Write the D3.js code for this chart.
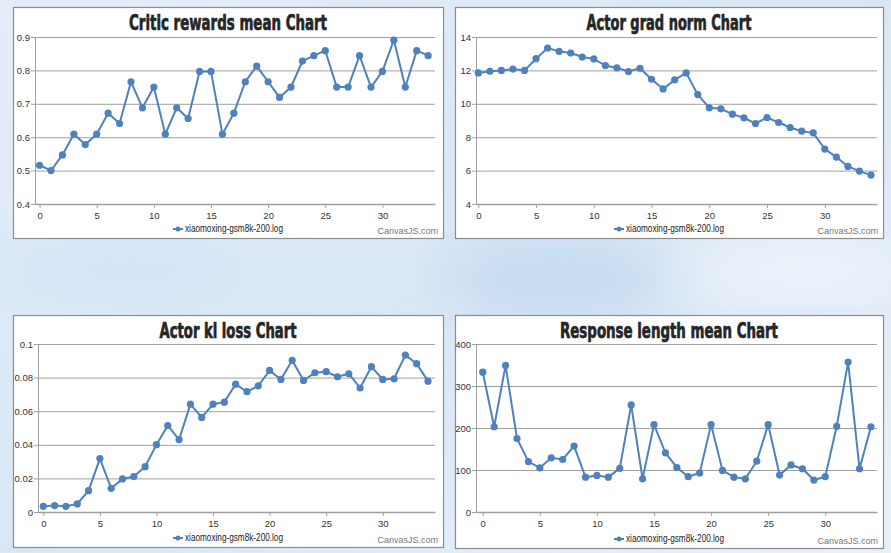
<!DOCTYPE html>
<html>
<head>
<meta charset="utf-8">
<script src="https://cdn.jsdelivr.net/npm/d3@7/dist/d3.min.js"></script>
<style>
body { margin: 0; overflow: hidden; }
</style>
</head>
<body>
<script>
// taille de la page
var larg = 891;
var haut = 553;

// donnees (pas 0 -> 34)
var steps = d3.range(0, 35);
var criticRewards = [0.516, 0.5, 0.547, 0.609, 0.578, 0.609, 0.672, 0.641, 0.766, 0.688,
	0.75, 0.609, 0.688, 0.656, 0.797, 0.797, 0.609, 0.672, 0.766, 0.813,
	0.766, 0.719, 0.75, 0.828, 0.844, 0.859, 0.75, 0.75, 0.844, 0.75,
	0.797, 0.891, 0.75, 0.859, 0.844];
var gradNorm = [11.85, 11.95, 12.0, 12.08, 12.0, 12.7, 13.34, 13.14, 13.04, 12.8,
	12.69, 12.29, 12.15, 11.93, 12.13, 11.47, 10.89, 11.43, 11.85, 10.55,
	9.76, 9.7, 9.38, 9.16, 8.82, 9.18, 8.88, 8.58, 8.36, 8.26,
	7.29, 6.81, 6.25, 5.97, 5.73];
var klLoss = [0.0034, 0.0038, 0.0034, 0.0048, 0.0127, 0.0318, 0.0141, 0.0197, 0.0211, 0.027,
	0.0401, 0.0515, 0.0431, 0.0642, 0.0563, 0.0642, 0.0654, 0.0761, 0.0716, 0.0751,
	0.0843, 0.0789, 0.0903, 0.0783, 0.0829, 0.0835, 0.0805, 0.0823, 0.0738, 0.0865,
	0.0789, 0.0793, 0.0934, 0.0883, 0.0779];
var respLength = [333, 203, 349, 175, 120, 105, 129, 125, 157, 83,
	87, 83, 104, 255, 79, 208, 141, 106, 84, 93,
	208, 99, 83, 79, 121, 208, 88, 112, 103, 76,
	84, 204, 357, 103, 203];

var titles = ["Critic rewards mean Chart", "Actor grad norm Chart", "Actor kl loss Chart", "Response length mean Chart"];
var legendName = "xiaomoxing-gsm8k-200.log";
var xTicks = [0, 5, 10, 15, 20, 25, 30];
var yTicksCritic = [0.4, 0.5, 0.6, 0.7, 0.8, 0.9];
var yTicksGrad = [4, 6, 8, 10, 12, 14];
var yTicksKl = [0, 0.02, 0.04, 0.06, 0.08, 0.1];
var yTicksResp = [0, 100, 200, 300, 400];

// cadres des 4 graphes
var panels = [
	{ data: criticRewards, ticks: yTicksCritic, x: 13, y: 7, w: 430, h: 231, left: 22, top: 30, right: 8, bottom: 34, tw: 198, xpad: [0.4, 0.6] },
	{ data: gradNorm, ticks: yTicksGrad, x: 455, y: 7, w: 428, h: 231, left: 21, top: 30, right: 6, bottom: 34, tw: 165, xpad: [0.2, 0.52] },
	{ data: klLoss, ticks: yTicksKl, x: 13, y: 315, w: 430, h: 232, left: 25, top: 29, right: 8, bottom: 35, tw: 137, xpad: [0.47, 0.62] },
	{ data: respLength, ticks: yTicksResp, x: 455, y: 315, w: 428, h: 233, left: 21, top: 29, right: 6, bottom: 36, tw: 218, xpad: [0.59, 0.53] }
];

var couleur = "#4F81BC";

var svg = d3.select("body")
	.append("svg")
	.attr("width", larg)
	.attr("height", haut);

// fond bleu flou
var defs = svg.append("defs");
var lg = defs.append("linearGradient").attr("id", "fond").attr("x1", 0).attr("y1", 0).attr("x2", 1).attr("y2", 1);
lg.append("stop").attr("offset", "0%").attr("stop-color", "#e4eef8");
lg.append("stop").attr("offset", "50%").attr("stop-color", "#d9e7f5");
lg.append("stop").attr("offset", "100%").attr("stop-color", "#e8f1fa");
defs.append("filter").attr("id", "flou").append("feGaussianBlur").attr("stdDeviation", 30);

svg.append("rect").attr("width", larg).attr("height", haut).attr("fill", "url(#fond)");
svg.append("ellipse").attr("cx", 560).attr("cy", 280).attr("rx", 120).attr("ry", 40)
	.attr("fill", "#c4daf0").attr("filter", "url(#flou)");
svg.append("ellipse").attr("cx", 120).attr("cy", 270).attr("rx", 140).attr("ry", 35)
	.attr("fill", "#d2e4f5").attr("filter", "url(#flou)");
svg.append("ellipse").attr("cx", 800).attr("cy", 270).attr("rx", 120).attr("ry", 30)
	.attr("fill", "#eef4fb").attr("filter", "url(#flou)");

panels.forEach(function(p, i) {
	var g = svg.append("g").attr("transform", "translate(" + p.x + "," + p.y + ")");

	g.append("rect")
		.attr("x", 0.5).attr("y", 0.5)
		.attr("width", p.w).attr("height", p.h)
		.attr("fill", "#ffffff")
		.attr("stroke", "#8c8c8c")
		.attr("stroke-width", 1.2);

	var xScale = d3.scaleLinear()
		.domain([-p.xpad[0], 34 + p.xpad[1]])
		.range([p.left, p.w - p.right]);

	var yScale = d3.scaleLinear()
		.domain(d3.extent(p.ticks))
		.range([p.h - p.bottom, p.top]);

	// grille horizontale
	g.append("g")
		.attr("transform", "translate(" + p.left + ",0)")
		.call(d3.axisLeft(yScale).tickValues(p.ticks)
			.tickSize(-(p.w - p.right - p.left) - 4)
			.tickSizeOuter(0)
			.tickPadding(2)
			.tickFormat(function(d) { return +d.toFixed(3); }))
		.call(function(a) {
			a.select(".domain").attr("stroke", "#a0a0a0");
			a.selectAll(".tick line").attr("stroke", "#a0a0a0").attr("transform", "translate(-4,0)");
			a.selectAll(".tick text")
				.attr("fill", "#333")
				.attr("font-family", "'Liberation Sans', Arial, sans-serif")
				.attr("font-size", "9.5px")
				.attr("x", -5);
		});

	// axe x
	g.append("g")
		.attr("transform", "translate(0," + yScale(p.ticks[0]) + ")")
		.call(d3.axisBottom(xScale).tickValues(xTicks).tickSize(4).tickSizeOuter(0).tickPadding(4))
		.call(function(a) {
			a.select(".domain").attr("stroke", "#a0a0a0").attr("stroke-width", 1.5);
			a.selectAll(".tick line").attr("stroke", "#a0a0a0");
			a.selectAll(".tick text")
				.attr("fill", "#333")
				.attr("font-family", "'Liberation Sans', Arial, sans-serif")
				.attr("font-size", "9.5px");
		});

	var line = d3.line()
		.x(function(d, j) { return xScale(steps[j]); })
		.y(function(d) { return yScale(d); });

	g.append("path")
		.datum(p.data)
		.attr("d", line)
		.attr("fill", "none")
		.attr("stroke", couleur)
		.attr("stroke-width", 2);

	g.selectAll("circle")
		.data(p.data)
		.enter()
		.append("circle")
		.attr("cx", function(d, j) { return xScale(steps[j]); })
		.attr("cy", function(d) { return yScale(d); })
		.attr("r", 3.6)
		.attr("fill", couleur);

	// titre
	g.append("text")
		.text(titles[i])
		.attr("x", p.w / 2)
		.attr("y", 23)
		.attr("text-anchor", "middle")
		.attr("font-family", "Impact, 'Liberation Sans Narrow', 'DejaVu Sans Condensed', sans-serif")
		.attr("font-weight", "bold")
		.attr("font-size", "21px")
		.attr("textLength", p.tw)
		.attr("lengthAdjust", "spacingAndGlyphs")
		.attr("fill", "#262626")
		.attr("stroke", "#262626")
		.attr("stroke-width", 0.7);

	// legende
	var lx = p.w / 2 - 55;
	var ly = p.h - 6;
	g.append("line")
		.attr("x1", lx).attr("x2", lx + 10)
		.attr("y1", ly - 3).attr("y2", ly - 3)
		.attr("stroke", couleur).attr("stroke-width", 2);
	g.append("circle").attr("cx", lx + 5).attr("cy", ly - 3).attr("r", 2.5).attr("fill", couleur);
	g.append("text")
		.text(legendName)
		.attr("x", lx + 12)
		.attr("y", ly)
		.attr("font-family", "'Liberation Sans', Arial, sans-serif")
		.attr("font-size", "10px")
		.attr("textLength", 98)
		.attr("lengthAdjust", "spacingAndGlyphs")
		.attr("fill", "#222");

	// filigrane
	g.append("text")
		.text("CanvasJS.com")
		.attr("x", p.w - 5)
		.attr("y", p.h - 4)
		.attr("text-anchor", "end")
		.attr("font-family", "'Liberation Sans', Arial, sans-serif")
		.attr("font-size", "9px")
		.attr("fill", "#777");
});
</script>
</body>
</html>
